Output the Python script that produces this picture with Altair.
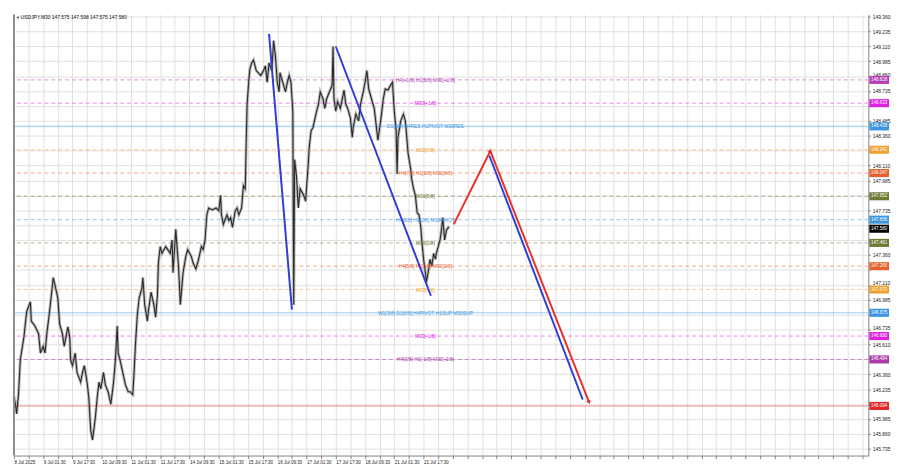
import altair as alt
import pandas as pd

W, H = 868, 448
X_MAX = 934.4
Y_MIN, Y_MAX = 145.678, 149.376

# ---- price path (bar index, price) ----
bar_idx = [0, 2, 3, 5, 7, 11, 14, 18, 19, 23, 27, 29, 32, 34, 36, 39, 43, 45, 48, 50,
           53, 55, 59, 61, 62, 64, 67, 69, 73, 75, 77, 80, 82, 84, 86, 89, 91, 93, 95, 98,
           100, 103, 106, 109, 111, 113, 114, 116, 119, 122, 125, 127, 130, 131, 133, 135, 137, 140, 141, 143,
           146, 147, 150, 153, 155, 157, 158, 160, 162, 166, 171, 173, 174, 177, 178, 180, 182, 185, 188, 190,
           194, 196, 199, 202, 205, 207, 209, 211, 213, 217, 221, 224, 226, 227, 229, 233, 235, 237, 239, 242,
           244, 246, 249, 251, 253, 254, 255, 257, 258, 260, 262, 265, 267, 270, 273, 275, 277, 279, 282, 284,
           286, 288, 290, 291, 294, 297, 299, 301, 303, 305, 306, 307, 309, 311, 313, 317, 319, 322, 323, 325,
           327, 331, 333, 335, 338, 340, 342, 345, 348, 349, 350, 352, 354, 357, 361, 363, 365, 368, 370, 371,
           374, 377, 379, 382, 384, 386, 388, 391, 394, 396, 398, 400, 402, 404, 406, 409, 412, 414, 416, 418,
           419, 420, 423, 426, 428, 429, 431, 434, 435, 437, 439, 441, 443, 445, 446, 448, 450, 451, 453, 455,
           457, 459, 461, 462, 464, 466, 467, 469, 471, 473, 475, 476]
close = [146.173, 146.091, 146.027, 146.189, 146.481, 146.675, 146.886, 146.967, 146.805, 146.765,
         146.700, 146.538, 146.594, 146.538, 146.700, 146.886, 147.170, 147.105, 147.000, 146.781,
         146.700, 146.594, 146.757, 146.675, 146.481, 146.432, 146.538, 146.375, 146.294, 146.375,
         146.432, 146.294, 146.156, 145.889, 145.808, 145.994, 146.156, 146.294, 146.237, 146.375,
         146.270, 146.213, 146.108, 146.294, 146.481, 146.765, 146.538, 146.481, 146.375, 146.270,
         146.213, 146.213, 146.189, 146.319, 146.619, 146.862, 147.000, 147.081, 147.170, 146.943,
         146.805, 146.886, 147.048, 146.943, 146.838, 147.024, 147.292, 147.430, 147.373, 147.430,
         147.373, 147.486, 147.211, 147.576, 147.470, 147.267, 146.943, 147.211, 147.348, 147.405,
         147.348, 147.292, 147.243, 147.324, 147.430, 147.405, 147.486, 147.697, 147.754, 147.738,
         147.754, 147.730, 147.860, 147.697, 147.616, 147.697, 147.649, 147.673, 147.592, 147.730,
         147.754, 147.697, 147.754, 147.941, 147.916, 148.297, 148.622, 148.833, 148.914, 148.971,
         148.995, 148.906, 148.890, 148.865, 148.906, 148.946, 148.808, 148.971, 148.906, 149.157,
         149.027, 148.808, 148.727, 148.889, 148.808, 148.727, 148.808, 148.865, 148.808, 148.565,
         146.943, 148.160, 148.022, 147.754, 147.916, 147.859, 147.811, 148.135, 148.265, 148.403,
         148.427, 148.565, 148.622, 148.727, 148.670, 148.589, 148.670, 148.727, 148.784, 149.108,
         148.670, 148.565, 148.646, 148.589, 148.743, 148.622, 148.589, 148.508, 148.346, 148.427,
         148.541, 148.484, 148.622, 148.727, 148.808, 148.906, 148.752, 148.670, 148.589, 148.460,
         148.322, 148.427, 148.541, 148.670, 148.752, 148.743, 148.784, 148.808, 148.565, 148.403,
         148.038, 148.346, 148.484, 148.541, 148.484, 148.403, 148.216, 148.078, 147.997, 147.916,
         147.860, 147.713, 147.697, 147.592, 147.486, 147.324, 147.211, 147.130, 147.211, 147.324,
         147.267, 147.373, 147.324, 147.373, 147.430, 147.486, 147.535, 147.673, 147.486, 147.568,
         147.592, 147.584]

# ---- axis labels ----
date_labels = ["8 Jul 2025", "9 Jul 01:30", "9 Jul 17:30", "10 Jul 09:30", "11 Jul 01:30",
               "11 Jul 17:30", "14 Jul 09:30", "15 Jul 01:30", "15 Jul 17:30", "16 Jul 09:30",
               "17 Jul 01:30", "17 Jul 17:30", "18 Jul 09:30", "21 Jul 01:30", "21 Jul 17:30"]
price_ticks = [149.360, 149.235, 149.110, 148.985, 148.860, 148.735, 148.610, 148.485, 148.360,
               148.235, 148.110, 147.985, 147.860, 147.735, 147.610, 147.485, 147.360, 147.235,
               147.110, 146.985, 146.860, 146.735, 146.610, 146.485, 146.360, 146.235, 146.110,
               145.985, 145.860, 145.735]
# tick labels hidden behind the price boxes in the reference
hidden_ticks = ["148.610", "148.235", "147.860", "147.610", "147.485", "147.235",
                "146.860", "146.485", "146.110"]
# tick labels that sit just above a price box
lifted_ticks = ["148.860", "147.110", "146.735"]

# ---- Murrey levels ----
level_prices = [148.828, 148.633, 148.438, 148.242, 148.047, 147.852, 147.656, 147.461,
                147.266, 147.070, 146.875, 146.680, 146.484, 146.094]
level_labels = ["H4[+1/8] H1[5/8] M30[+2/8]", "M30[+1/8]", "D1[8/8] H4RES H1PIVOT M30RES",
                "M30[7/8]", "H4[7/8] H1[3/8] M30[6/8]", "M30[5/8]", "H4[6/8] H1[2/8] M30PIVOT",
                "M30[3/8]", "H4[5/8] H1[1/8] M30[2/8]", "M30[1/8]",
                "W1[3/8] D1[6/8] H4PIVOT H1SUP M30SUP", "M30[-1/8]", "H4[3/8] H1[-1/8] M30[-2/8]", ""]
level_colors = ["#b43cb4", "#e020e0", "#3d95e0", "#f0a030", "#e8602c", "#6e7b35", "#3d95e0",
                "#6e7b35", "#e8602c", "#f0a030", "#3d95e0", "#e020e0", "#a83ca8", "#e02828"]
level_solid = [False, False, True, False, False, False, False, False, False, False, True,
               False, False, True]
label_center_bar = 450

current_price = 147.580
title_text = "USDJPY,M30  147.575 147.598 147.575 147.580"

# ---- trend lines ----
hist_seg = ["a", "a", "b", "b"]
hist_bar = [279, 304, 352, 456]
hist_price = [149.214, 146.902, 149.108, 147.018]
red_bar = [481, 521, 629]
red_price = [147.616, 148.232, 146.124]
blue_bar = [520, 622]
blue_price = [148.192, 146.148]

# ---- frames ----
px_per_price = H / (Y_MAX - Y_MIN)
half_box = 4.1 / px_per_price

price_df = pd.DataFrame({"bar": bar_idx, "price": close})
lev = pd.DataFrame({"price": level_prices, "label": level_labels, "color": level_colors,
                    "solid": level_solid})
lev["lx"] = label_center_bar
boxes = pd.concat([lev[["price", "color"]],
                   pd.DataFrame({"price": [current_price], "color": ["#000000"]})],
                  ignore_index=True)
boxes["top"] = boxes["price"] + half_box
boxes["bot"] = boxes["price"] - half_box
boxes["txt"] = boxes["price"].map(lambda v: f"{v:.3f}")

hist_df = pd.DataFrame({"seg": hist_seg, "bar": hist_bar, "price": hist_price})
red_df = pd.DataFrame({"bar": red_bar, "price": red_price, "o": range(len(red_bar))})
blue_df = pd.DataFrame({"bar": blue_bar, "price": blue_price, "o": range(len(blue_bar))})
arrow_df = pd.DataFrame({"bar": [red_bar[1], red_bar[2]], "price": [red_price[1], red_price[2]],
                         "ang": [26, 159]})
grid_df = pd.DataFrame({"bar": [0, X_MAX], "price": [Y_MIN, Y_MAX]})

xs = alt.Scale(domain=[0, X_MAX], nice=False, zero=False)
ys = alt.Scale(domain=[Y_MIN, Y_MAX], nice=False, zero=False)


def js_list(items):
    return "[" + ",".join("'" + s + "'" for s in items) + "]"


arr = [date_labels[i // 2] if i % 2 == 0 else "" for i in range(len(date_labels) * 2 - 1)]
x_label_expr = js_list(arr) + "[datum.value/16] || ''"
y_label_expr = ("indexof(" + js_list(hidden_ticks) +
                ", format(datum.value, '.3f')) >= 0 ? '' : format(datum.value, '.3f')")
lift_test = "indexof(" + js_list(lifted_ticks) + ", format(datum.value, '.3f')) >= 0"

x_axis = alt.Axis(values=list(range(0, 935, 16)), labelExpr=x_label_expr, grid=True,
                  gridColor="#e0e0e0", gridWidth=1, domainColor="#808080", tickColor="#808080",
                  tickSize=3, labelFontSize=4.6, labelFont="Liberation Sans", labelColor="#222222",
                  labelAlign="left", labelPadding=1, labelOverlap=False, labelFlush=False,
                  labelBound=False, title=None)
y_axis = alt.Axis(orient="right", values=price_ticks, labelExpr=y_label_expr, grid=True,
                  gridColor="#e0e0e0", gridWidth=1, domainColor="#808080", tickColor="#808080",
                  tickSize=2, labelFontSize=5, labelFont="Liberation Sans", labelColor="#222222",
                  labelPadding=2, labelOverlap=False, title=None,
                  labelOffset={"condition": {"test": lift_test, "value": -2}, "value": 0})


def X(field):
    return alt.X(field, type="quantitative", scale=xs, axis=x_axis)


def Y(field):
    return alt.Y(field, type="quantitative", scale=ys, axis=y_axis)


base = alt.Chart(grid_df).mark_point(opacity=0).encode(x=X("bar"), y=Y("price"))

halo = alt.Chart(price_df).mark_line(color="#a0a0a0", strokeWidth=3, opacity=0.75).encode(
    x=X("bar"), y=Y("price"), order="bar:Q")
core = alt.Chart(price_df).mark_line(color="#2a2a2a", strokeWidth=1.1).encode(
    x=X("bar"), y=Y("price"), order="bar:Q")

dashed = alt.Chart(lev[~lev["solid"]]).mark_rule(strokeDash=[4, 3], strokeWidth=1,
                                                  opacity=0.55).encode(
    y=Y("price"), color=alt.Color("color:N", scale=None))
solid = alt.Chart(lev[lev["solid"]]).mark_rule(strokeWidth=1.6, opacity=0.35).encode(
    y=Y("price"), color=alt.Color("color:N", scale=None))

labels = alt.Chart(lev[lev["label"] != ""]).mark_text(
    fontSize=5, font="Liberation Sans", align="center", baseline="middle").encode(
    x=X("lx"), y=Y("price"), text="label:N", color=alt.Color("color:N", scale=None))

hist = alt.Chart(hist_df).mark_line(color="#2f3fd2", strokeWidth=2).encode(
    x=X("bar"), y=Y("price"), detail="seg:N")
red = alt.Chart(red_df).mark_line(color="#e8302a", strokeWidth=2).encode(
    x=X("bar"), y=Y("price"), order="o:Q")
blue = alt.Chart(blue_df).mark_line(color="#2f3fd2", strokeWidth=2).encode(
    x=X("bar"), y=Y("price"), order="o:Q")
arrows = alt.Chart(arrow_df).mark_point(shape="triangle-up", filled=True, color="#e8302a",
                                        size=22, opacity=1).encode(
    x=X("bar"), y=Y("price"), angle=alt.Angle("ang:Q", scale=None))

box_rect = alt.Chart(boxes).mark_rect().encode(
    x=alt.value(W + 1), x2=alt.value(W + 21),
    y=Y("top"), y2="bot:Q",
    color=alt.Color("color:N", scale=None))
box_text = alt.Chart(boxes).mark_text(fontSize=4.6, font="Liberation Sans", color="white",
                                      align="center", baseline="middle").encode(
    x=alt.value(W + 11), y=Y("price"), text="txt:N")

left_border = alt.Chart(grid_df).mark_rule(color="#8a8a8a", strokeWidth=1.5).encode(
    x=alt.value(0), y=alt.value(0), y2=alt.value(H))

title_df = pd.DataFrame({"t": [title_text]})
title = alt.Chart(title_df).mark_text(fontSize=5, font="Liberation Sans", color="#111111",
                                      align="left", baseline="top").encode(
    x=alt.value(7), y=alt.value(1), text="t:N")
icon = alt.Chart(pd.DataFrame({"t": ["\u25bc"]})).mark_text(
    fontSize=4, color="#333333", align="left", baseline="top").encode(
    x=alt.value(2), y=alt.value(1.5), text="t:N")

chart = alt.layer(base, halo, dashed, solid, core, labels, hist, red, blue, arrows,
                  box_rect, box_text, left_border, title, icon).properties(
    width=W, height=H, padding=0, background="white"
).configure_view(stroke=None)

chart.save("out.html", embed_options={"renderer": "svg", "actions": False})
